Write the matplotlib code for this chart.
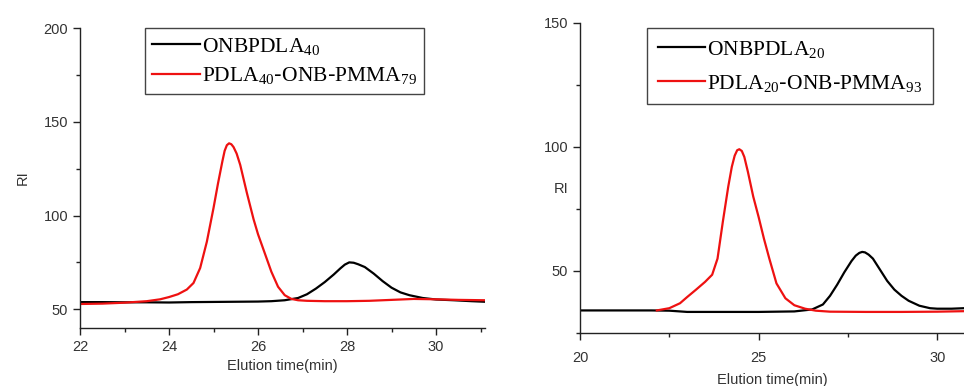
import matplotlib
matplotlib.use("Agg")
import matplotlib.pyplot as plt
from matplotlib.ticker import MultipleLocator

# ---- Left panel data ----
left_black_x = [22.0, 22.5, 23.0, 23.5, 24.0, 24.5, 25.0, 25.5, 26.0, 26.3, 26.6, 26.9, 27.1, 27.3, 27.5,
                27.7, 27.85, 27.95, 28.05, 28.15, 28.25, 28.4, 28.6, 28.8, 29.0, 29.2, 29.4, 29.7, 30.0,
                30.4, 30.8, 31.1]
left_black_y = [53.8, 53.8, 53.7, 53.7, 53.6, 53.8, 53.9, 54.0, 54.1, 54.3, 54.8, 56.0, 58.0, 61.0, 64.5,
                68.5, 71.8, 73.8, 75.0, 74.8, 74.0, 72.5, 69.0, 65.0, 61.5, 59.0, 57.5, 56.0, 55.2,
                54.8, 54.3, 54.0]
left_red_x = [22.0, 22.5, 23.0, 23.5, 23.8, 24.0, 24.2, 24.4, 24.55, 24.7, 24.85, 25.0, 25.1, 25.2, 25.25,
              25.3, 25.35, 25.4, 25.45, 25.52, 25.6, 25.75, 25.9, 26.0, 26.15, 26.3, 26.45, 26.6, 26.75,
              26.9, 27.1, 27.5, 28.0, 28.5, 29.0, 29.5, 30.0, 30.5, 31.1]
left_red_y = [52.8, 53.0, 53.5, 54.3, 55.3, 56.5, 58.0, 60.5, 64.0, 72.0, 86.0, 104.0, 117.0, 129.0, 134.5,
              137.5, 138.5, 138.0, 136.5, 133.0, 127.0, 112.0, 98.0, 90.0, 80.0, 70.0, 62.0, 57.5, 55.5,
              54.8, 54.5, 54.3, 54.3, 54.5, 55.0, 55.5, 55.3, 55.0, 54.8]

# ---- Right panel data ----
right_black_x = [20.0, 21.0, 22.0, 22.5, 23.0, 24.0, 25.0, 26.0, 26.5, 26.8, 27.0, 27.2, 27.4, 27.6,
                 27.72, 27.82, 27.9, 27.98, 28.08, 28.2, 28.4, 28.6, 28.8, 29.0, 29.2, 29.5, 29.8,
                 30.0, 30.4, 30.75]
right_black_y = [34.1, 34.1, 34.1, 34.0, 33.5, 33.5, 33.5, 33.7, 34.5, 36.5, 40.0, 44.5, 49.5, 54.0,
                 56.2, 57.3, 57.7, 57.5, 56.6, 55.0, 50.5, 46.0, 42.5, 40.0, 38.0, 36.0, 35.0,
                 34.8, 34.8, 35.0]
right_red_x = [22.15, 22.5, 22.8, 23.0, 23.25, 23.5, 23.7, 23.85, 24.0, 24.15, 24.25, 24.33, 24.4, 24.46,
               24.53, 24.6, 24.7, 24.85, 25.0, 25.15, 25.3, 25.5, 25.75, 26.0, 26.3, 26.6, 27.0, 28.0,
               29.0, 30.0, 30.75]
right_red_y = [34.1, 35.0, 37.0, 39.5, 42.5, 45.6, 48.5, 55.0, 70.0, 84.0, 92.0, 96.5, 98.7, 99.1,
               98.4, 96.0, 90.0, 80.0, 71.8, 63.0, 55.0, 45.0, 39.0, 36.2, 34.8, 34.0, 33.6, 33.5,
               33.5, 33.6, 33.8]

left_labels = [r'$\mathregular{ONBPDLA_{40}}$', r'$\mathregular{PDLA_{40}\text{-}ONB\text{-}PMMA_{79}}$']
right_labels = [r'$\mathregular{ONBPDLA_{20}}$', r'$\mathregular{PDLA_{20}\text{-}ONB\text{-}PMMA_{93}}$']

plt.rcParams['font.family'] = ['Liberation Sans', 'DejaVu Sans']

fig = plt.figure(figsize=(9.64, 3.86), dpi=100)
W, H = 964, 386

def ax_at(l, t, r, b):
    return fig.add_axes([l / W, 1 - b / H, (r - l) / W, (b - t) / H])

axL = ax_at(80, 28, 485, 328)
axR = ax_at(580, 23, 964, 333)

tick_col = '#333333'
for ax in (axL, axR):
    for s in ('top', 'right'):
        ax.spines[s].set_visible(False)
    for s in ('left', 'bottom'):
        ax.spines[s].set_color('#222222')
        ax.spines[s].set_linewidth(1.0)
    ax.tick_params(which='major', direction='out', length=5, width=1, colors='#222222',
                   labelsize=10.5, labelcolor=tick_col)
    ax.tick_params(which='minor', direction='out', length=3, width=1, colors='#222222')

lw = 1.6
lb, = axL.plot(left_black_x, left_black_y, color='black', lw=lw)
lr, = axL.plot(left_red_x, left_red_y, color='#ee1111', lw=lw)
axL.set_xlim(22, 31.1)
axL.set_ylim(40, 200)
axL.xaxis.set_major_locator(MultipleLocator(2))
axL.xaxis.set_minor_locator(MultipleLocator(1))
axL.yaxis.set_major_locator(MultipleLocator(50))
axL.yaxis.set_minor_locator(MultipleLocator(25))
axL.set_xlabel('Elution time(min)', fontsize=10.5, color=tick_col, labelpad=4)
axL.set_ylabel('RI', fontsize=10.5, color=tick_col, labelpad=10)

rb, = axR.plot(right_black_x, right_black_y, color='black', lw=lw)
rr, = axR.plot(right_red_x, right_red_y, color='#ee1111', lw=lw)
axR.set_xlim(20, 30.75)
axR.set_ylim(25, 150)
axR.xaxis.set_major_locator(MultipleLocator(5))
axR.xaxis.set_minor_locator(MultipleLocator(2.5))
axR.yaxis.set_major_locator(MultipleLocator(50))
axR.yaxis.set_minor_locator(MultipleLocator(25))
axR.tick_params(axis='x', which='major', pad=8)
axR.set_xlabel('Elution time(min)', fontsize=10.5, color=tick_col, labelpad=6)
axR.text(-0.05, 0.465, 'RI', transform=axR.transAxes, fontsize=10.5, color=tick_col,
         ha='center', va='center')

leg_font = {'family': 'Liberation Serif', 'size': 15.5}
legL = axL.legend([lb, lr], left_labels, loc='upper left', bbox_to_anchor=(0.16, 1.0),
                  borderaxespad=0, fancybox=False, edgecolor='#444444', prop=leg_font,
                  handlelength=2.2, handletextpad=0.1, labelspacing=0.4, borderpad=0.35,
                  framealpha=1)
legL.get_frame().set_linewidth(1.0)
legR = axR.legend([rb, rr], right_labels, loc='upper left', bbox_to_anchor=(0.174, 0.984),
                  borderaxespad=0, fancybox=False, edgecolor='#444444', prop=leg_font,
                  handlelength=2.2, handletextpad=0.1, labelspacing=0.6, borderpad=0.5,
                  framealpha=1)
legR.get_frame().set_linewidth(1.0)

fig.savefig('out.png', dpi=100)
